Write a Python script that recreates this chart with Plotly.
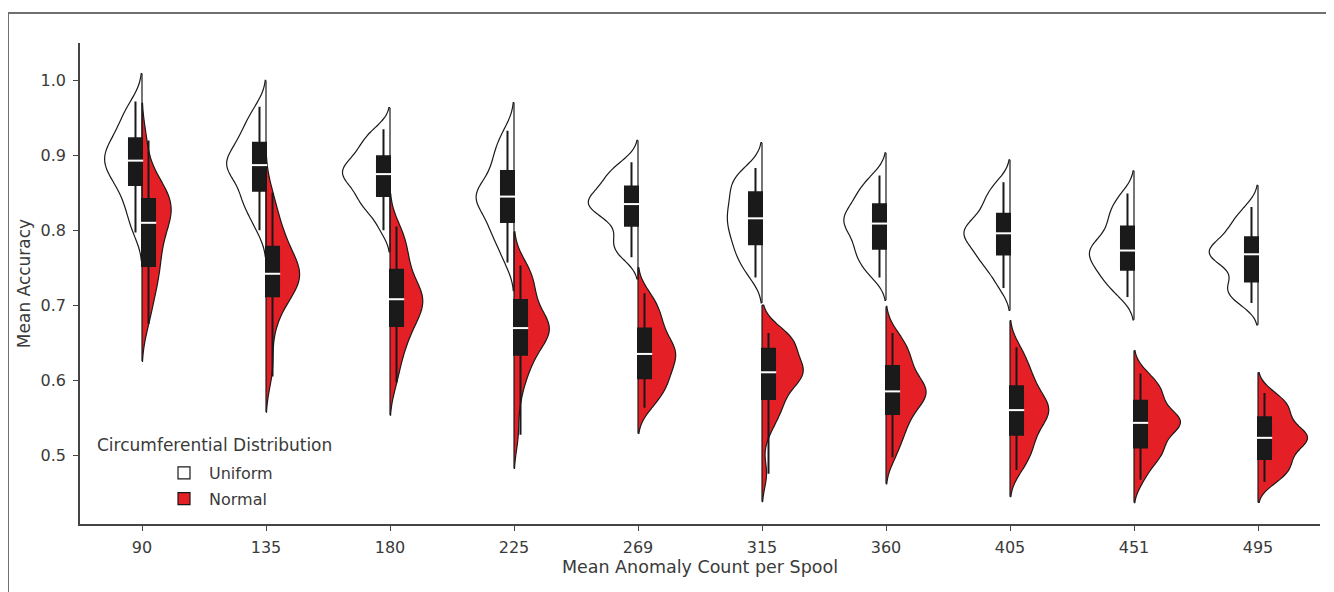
import numpy as np
import plotly.graph_objects as go

categories = ["90", "135", "180", "225", "269", "315", "360", "405", "451", "495"]

# Estimated accuracy samples (Uniform circumferential distribution)
uniform_90 = [0.797, 0.815, 0.830, 0.842, 0.853, 0.863, 0.870, 0.876, 0.882, 0.888, 0.893,
              0.898, 0.903, 0.908, 0.914, 0.921, 0.929, 0.938, 0.948, 0.958, 0.972]
uniform_135 = [0.800, 0.818, 0.830, 0.838, 0.846, 0.855, 0.864, 0.872, 0.878, 0.883, 0.887,
               0.891, 0.895, 0.900, 0.907, 0.915, 0.922, 0.930, 0.940, 0.950, 0.965]
uniform_180 = [0.800, 0.818, 0.829, 0.836, 0.842, 0.847, 0.856, 0.862, 0.867, 0.871, 0.875,
               0.879, 0.882, 0.886, 0.891, 0.897, 0.904, 0.911, 0.918, 0.926, 0.935]
uniform_225 = [0.757, 0.775, 0.788, 0.798, 0.806, 0.813, 0.823, 0.831, 0.837, 0.841, 0.845,
               0.849, 0.853, 0.858, 0.866, 0.877, 0.886, 0.896, 0.906, 0.918, 0.933]
uniform_269 = [0.764, 0.772, 0.780, 0.787, 0.797, 0.809, 0.818, 0.824, 0.828, 0.832, 0.835,
               0.838, 0.841, 0.845, 0.850, 0.857, 0.863, 0.869, 0.875, 0.882, 0.891]
uniform_315 = [0.737, 0.750, 0.760, 0.768, 0.776, 0.783, 0.791, 0.798, 0.804, 0.810, 0.816,
               0.822, 0.828, 0.834, 0.841, 0.849, 0.856, 0.862, 0.868, 0.875, 0.883]
uniform_360 = [0.737, 0.748, 0.757, 0.764, 0.771, 0.777, 0.785, 0.792, 0.798, 0.804, 0.809,
               0.813, 0.817, 0.821, 0.826, 0.833, 0.840, 0.847, 0.854, 0.862, 0.873]
uniform_405 = [0.723, 0.738, 0.750, 0.758, 0.764, 0.769, 0.777, 0.783, 0.788, 0.792, 0.796,
               0.800, 0.803, 0.807, 0.812, 0.820, 0.828, 0.836, 0.844, 0.853, 0.864]
uniform_451 = [0.711, 0.722, 0.730, 0.737, 0.743, 0.749, 0.755, 0.760, 0.765, 0.769, 0.773,
               0.777, 0.781, 0.786, 0.793, 0.803, 0.811, 0.819, 0.827, 0.837, 0.849]
uniform_495 = [0.703, 0.710, 0.716, 0.722, 0.728, 0.733, 0.748, 0.756, 0.761, 0.765, 0.768,
               0.771, 0.774, 0.777, 0.781, 0.789, 0.796, 0.803, 0.810, 0.819, 0.831]

# Estimated accuracy samples (Normal circumferential distribution)
normal_90 = [0.675, 0.700, 0.718, 0.732, 0.745, 0.755, 0.767, 0.779, 0.790, 0.800, 0.810,
             0.817, 0.823, 0.829, 0.835, 0.840, 0.847, 0.855, 0.865, 0.880, 0.920]
normal_135 = [0.605, 0.630, 0.665, 0.685, 0.700, 0.712, 0.718, 0.724, 0.730, 0.735, 0.740,
              0.744, 0.749, 0.754, 0.760, 0.768, 0.778, 0.788, 0.798, 0.810, 0.828, 0.850]
normal_180 = [0.597, 0.622, 0.640, 0.653, 0.664, 0.675, 0.683, 0.690, 0.696, 0.702, 0.708,
              0.713, 0.718, 0.723, 0.730, 0.745, 0.755, 0.766, 0.778, 0.791, 0.805]
normal_225 = [0.527, 0.571, 0.598, 0.614, 0.625, 0.634, 0.647, 0.655, 0.661, 0.665, 0.668,
              0.671, 0.674, 0.677, 0.681, 0.697, 0.707, 0.716, 0.726, 0.737, 0.745, 0.753]
normal_269 = [0.563, 0.575, 0.584, 0.591, 0.598, 0.604, 0.612, 0.619, 0.625, 0.630, 0.635,
              0.640, 0.645, 0.650, 0.657, 0.667, 0.675, 0.684, 0.693, 0.703, 0.716]
normal_315 = [0.475, 0.531, 0.550, 0.561, 0.568, 0.575, 0.590, 0.598, 0.603, 0.607, 0.609,
              0.612, 0.615, 0.618, 0.622, 0.635, 0.642, 0.648, 0.653, 0.657, 0.660, 0.663]
normal_360 = [0.497, 0.515, 0.528, 0.538, 0.548, 0.557, 0.566, 0.572, 0.577, 0.581, 0.585,
              0.589, 0.593, 0.598, 0.605, 0.617, 0.624, 0.632, 0.640, 0.650, 0.663]
normal_405 = [0.480, 0.493, 0.503, 0.512, 0.521, 0.529, 0.539, 0.546, 0.551, 0.556, 0.560,
              0.564, 0.569, 0.574, 0.581, 0.590, 0.598, 0.607, 0.617, 0.629, 0.644]
normal_451 = [0.467, 0.484, 0.496, 0.503, 0.508, 0.511, 0.524, 0.532, 0.538, 0.541, 0.543,
              0.546, 0.549, 0.552, 0.557, 0.571, 0.577, 0.583, 0.590, 0.598, 0.609]
normal_495 = [0.464, 0.472, 0.479, 0.485, 0.491, 0.496, 0.506, 0.512, 0.516, 0.520, 0.523,
              0.526, 0.529, 0.533, 0.538, 0.549, 0.555, 0.561, 0.567, 0.574, 0.583]

uniform_groups = [uniform_90, uniform_135, uniform_180, uniform_225, uniform_269,
                  uniform_315, uniform_360, uniform_405, uniform_451, uniform_495]
normal_groups = [normal_90, normal_135, normal_180, normal_225, normal_269,
                 normal_315, normal_360, normal_405, normal_451, normal_495]

positions = list(range(len(categories)))

INK = "#1a1a1a"
RED = "#e41f26"
TEXT = "#3a3a3a"
AXIS = "#444444"
FONT = "DejaVu Sans"
SCOTT = 100 ** -0.2  # Scott's rule factor for ~100 runs per condition
FULL_WIDTH = 0.8     # width of the widest (full) violin, in category units


def bandwidth(g):
    return float(np.std(g, ddof=1)) * SCOTT


def kde_peak(g, bw):
    v = np.asarray(g)
    t = np.linspace(v.min() - 2 * bw, v.max() + 2 * bw, 400)
    dens = np.exp(-0.5 * ((t[:, None] - v[None, :]) / bw) ** 2).sum(1) / (len(v) * bw * np.sqrt(2 * np.pi))
    return float(dens.max())


# equal-area scaling: violin width proportional to its density peak
all_groups = uniform_groups + normal_groups
peaks = [kde_peak(g, bandwidth(g)) for g in all_groups]
max_peak = max(peaks)

fig = go.Figure()

center_x, center_y = [], []
for side, groups, fill, name, k0 in [("negative", uniform_groups, "white", "Uniform", 0),
                                     ("positive", normal_groups, RED, "Normal", len(uniform_groups))]:
    for i, g in enumerate(groups):
        bw = bandwidth(g)
        fig.add_trace(go.Violin(
            x=[i] * len(g), y=g, side=side, fillcolor=fill, name=name,
            legendgroup=name, showlegend=(i == 0), bandwidth=bw,
            scalemode="width", width=FULL_WIDTH * peaks[k0 + i] / max_peak,
            points=False, spanmode="soft", line=dict(color=INK, width=1.2),
            box_visible=False, meanline_visible=False, hoverinfo="skip"))
        center_x += [i, i, None]
        center_y += [min(g) - 2 * bw, max(g) + 2 * bw, None]

# straight inner edge of each half violin
fig.add_trace(go.Scatter(x=center_x, y=center_y, mode="lines",
                         line=dict(color=INK, width=1.2), showlegend=False,
                         hoverinfo="skip"))


def flatten(groups):
    xs, ys = [], []
    for i, g in enumerate(groups):
        xs += [i] * len(g)
        ys += list(g)
    return xs, ys


ux, uy = flatten(uniform_groups)
nx, ny = flatten(normal_groups)

BOXGAP = 0.79
box_common = dict(boxpoints=False, whiskerwidth=0, fillcolor=INK,
                  line=dict(color=INK, width=2), showlegend=False, hoverinfo="skip")
fig.add_trace(go.Box(x=ux, y=uy, name="Uniform box", **box_common))
fig.add_trace(go.Box(x=nx, y=ny, name="Normal box", **box_common))

off = 0.5 * (1 - BOXGAP) / 2
umed = [float(np.median(g)) for g in uniform_groups]
nmed = [float(np.median(g)) for g in normal_groups]
med_marker = dict(symbol="line-ew", size=11, line=dict(color="white", width=2))
fig.add_trace(go.Scatter(x=[p - off for p in positions], y=umed, mode="markers",
                         marker=med_marker, showlegend=False, hoverinfo="skip"))
fig.add_trace(go.Scatter(x=[p + off for p in positions], y=nmed, mode="markers",
                         marker=med_marker, showlegend=False, hoverinfo="skip"))

# page is shown with an 8 px body margin
PAGE = 8
W, H = 1326, 584
L, R, T, B = 72, 14, 35, 68
pw, ph = W - L - R, H - T - B


def px_x(px):
    return (px - PAGE - L) / pw


def px_y(py):
    return 1 - (py - PAGE - T) / ph


fig.update_layout(
    width=W, height=H,
    margin=dict(l=L, r=R, t=T, b=B, autoexpand=False),
    paper_bgcolor="white", plot_bgcolor="white",
    violinmode="overlay", violingap=0,
    boxmode="group", boxgap=BOXGAP, boxgroupgap=0,
    font=dict(family=FONT, size=16, color=TEXT),
    showlegend=True,
    legend=dict(x=px_x(159), y=px_y(456), xanchor="left", yanchor="top",
                bgcolor="rgba(0,0,0,0)", tracegroupgap=2, traceorder="grouped",
                itemwidth=40, font=dict(family=FONT, size=16, color=TEXT)),
    xaxis=dict(range=[-0.5, 9.5], tickmode="array", tickvals=positions, ticktext=categories,
               showline=True, linecolor=AXIS, linewidth=1.5, ticks="outside",
               ticklen=5, tickcolor=AXIS, showgrid=False, zeroline=False,
               automargin=False, ticklabelstandoff=3,
               tickfont=dict(family=FONT, size=16, color=TEXT),
               title=dict(text="Mean Anomaly Count per Spool", standoff=4,
                          font=dict(family=FONT, size=17.5, color=TEXT))),
    yaxis=dict(range=[0.408, 1.05], tickvals=[0.5, 0.6, 0.7, 0.8, 0.9, 1.0],
               ticktext=["0.5", "0.6", "0.7", "0.8", "0.9", "1.0"],
               showline=True, linecolor=AXIS, linewidth=1.5, ticks="outside",
               ticklen=5, tickcolor=AXIS, showgrid=False, zeroline=False,
               automargin=False, ticklabelstandoff=4,
               tickfont=dict(family=FONT, size=16, color=TEXT),
               title=dict(text="Mean Accuracy", standoff=6,
                          font=dict(family=FONT, size=17, color=TEXT))),
    annotations=[dict(text="Circumferential Distribution", xref="paper", yref="paper",
                      x=px_x(95), y=px_y(445), xanchor="left", yanchor="middle",
                      showarrow=False, font=dict(family=FONT, size=17, color=TEXT))],
    shapes=[dict(type="rect", xref="paper", yref="paper",
                 x0=px_x(8), x1=px_x(1328), y0=px_y(640), y1=px_y(13),
                 line=dict(color="#707070", width=2), fillcolor="rgba(0,0,0,0)",
                 layer="below")],
)

fig.write_html("out.html")
